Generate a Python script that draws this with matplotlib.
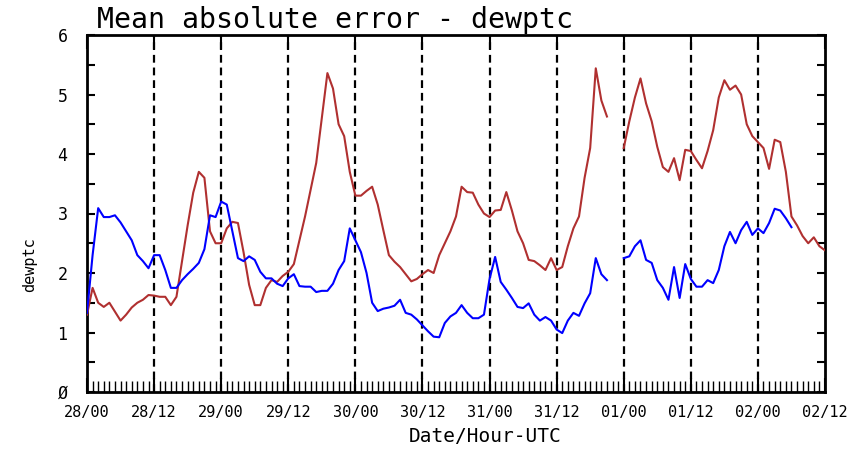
import numpy as np
import matplotlib
matplotlib.use("Agg")
import matplotlib.pyplot as plt

# ===== data (hourly) =====
hours = np.arange(0, 133)
tick_labels = ["28/00", "28/12", "29/00", "29/12", "30/00", "30/12",
               "31/00", "31/12", "01/00", "01/12", "02/00", "02/12"]

red_mae = [
    1.30, 1.75, 1.50, 1.43, 1.50, 1.35, 1.20, 1.30, 1.42, 1.50,   # 0-9
    1.55, 1.63, 1.62, 1.60, 1.60, 1.46, 1.60, 2.20, 2.80, 3.35,   # 10-19
    3.70, 3.60, 2.70, 2.50, 2.50, 2.75, 2.86, 2.84, 2.35, 1.80,   # 20-29
    1.46, 1.46, 1.75, 1.88, 1.85, 1.95, 2.02, 2.15, 2.55, 2.95,   # 30-39
    3.40, 3.85, 4.60, 5.36, 5.10, 4.50, 4.30, 3.70, 3.30, 3.30,   # 40-49
    3.38, 3.45, 3.15, 2.72, 2.30, 2.19, 2.10, 1.98, 1.86, 1.90,   # 50-59
    1.98, 2.05, 2.00, 2.30, 2.50, 2.70, 2.95, 3.45, 3.36, 3.35,   # 60-69
    3.15, 3.00, 2.94, 3.05, 3.06, 3.36, 3.05, 2.70, 2.50, 2.22,   # 70-79
    2.20, 2.13, 2.05, 2.25, 2.05, 2.10, 2.45, 2.75, 2.95, 3.60,   # 80-89
    4.10, 5.44, 4.90, 4.63, np.nan, np.nan, 4.10, 4.55, 4.95, 5.27,  # 90-99
    4.85, 4.55, 4.12, 3.78, 3.70, 3.93, 3.56, 4.07, 4.05, 3.90,   # 100-109
    3.76, 4.05, 4.40, 4.95, 5.24, 5.08, 5.15, 5.00, 4.50, 4.30,   # 110-119
    4.20, 4.10, 3.75, 4.24, 4.20, 3.70, 2.95, 2.80, 2.62, 2.50,   # 120-129
    2.60, 2.45, 2.38,                                             # 130-132
]

blue_mae = [
    1.33, 2.30, 3.09, 2.94, 2.94, 2.97, 2.85, 2.70, 2.55, 2.30,   # 0-9
    2.20, 2.08, 2.30, 2.30, 2.05, 1.75, 1.75, 1.88, 1.98, 2.07,   # 10-19
    2.17, 2.40, 2.97, 2.94, 3.20, 3.15, 2.70, 2.25, 2.20, 2.28,   # 20-29
    2.22, 2.02, 1.91, 1.91, 1.82, 1.78, 1.91, 1.98, 1.78, 1.77,   # 30-39
    1.77, 1.68, 1.70, 1.70, 1.82, 2.05, 2.20, 2.75, 2.55, 2.35,   # 40-49
    2.00, 1.50, 1.36, 1.40, 1.42, 1.45, 1.55, 1.33, 1.30, 1.22,   # 50-59
    1.12, 1.02, 0.93, 0.92, 1.16, 1.27, 1.33, 1.46, 1.33, 1.24,   # 60-69
    1.24, 1.30, 1.90, 2.27, 1.85, 1.72, 1.58, 1.43, 1.41, 1.49,   # 70-79
    1.30, 1.20, 1.26, 1.20, 1.05, 0.99, 1.20, 1.33, 1.28, 1.49,   # 80-89
    1.66, 2.25, 1.98, 1.88, np.nan, np.nan, 2.25, 2.28, 2.45, 2.55,  # 90-99
    2.22, 2.17, 1.88, 1.75, 1.55, 2.10, 1.58, 2.15, 1.90, 1.77,   # 100-109
    1.77, 1.88, 1.83, 2.05, 2.45, 2.69, 2.50, 2.72, 2.86, 2.64,   # 110-119
    2.75, 2.67, 2.84, 3.08, 3.05, 2.92, 2.77, np.nan, np.nan, np.nan,  # 120-129
    np.nan, np.nan, np.nan,                                       # 130-132
]

# ===== plot =====
plt.rcParams["font.family"] = ["DejaVu Sans Mono", "DejaVu Sans"]

fig = plt.figure(figsize=(8.58, 4.49), dpi=100)
ax = fig.add_axes([87 / 858, 1 - 392 / 449, 738 / 858, 357 / 449])

# dashed separators every 12 hours
for h in range(12, 132, 12):
    ax.axvline(h, color="black", lw=1.6, ls=(0, (3.5, 2.2)), zorder=1)

ax.plot(hours, red_mae, color="#b03030", lw=1.5, zorder=3)
ax.plot(hours, blue_mae, color="#0000ff", lw=1.5, zorder=3)

ax.set_xlim(0, 132)
ax.set_ylim(0, 6)

ax.set_xticks(np.arange(0, 133, 12))
ax.set_xticklabels(tick_labels, fontsize=11)
ax.set_xticks(np.arange(0, 133, 1), minor=True)
ax.set_yticks(np.arange(0, 7, 1))
ax.set_yticklabels(["Ø", "1", "2", "3", "4", "5", "6"], fontsize=12)
ax.set_yticks(np.arange(0, 6.01, 0.5), minor=True)

ax.tick_params(axis="x", which="major", direction="in", length=10, width=1.5,
               top=True, pad=9)
ax.tick_params(axis="x", which="minor", direction="in", length=8, width=1,
               top=False)
ax.tick_params(axis="y", which="major", direction="in", length=6, width=1.5,
               right=True, pad=14)
ax.tick_params(axis="y", which="minor", direction="in", length=6, width=1.5,
               right=True)

for sp in ax.spines.values():
    sp.set_linewidth(2)

ax.set_xlabel("Date/Hour-UTC", fontsize=14)
ax.xaxis.set_label_coords(0.54, -0.098)
ax.set_ylabel("dewptc", fontsize=11)
ax.yaxis.set_label_coords(-0.068, 0.356)
fig.text(97 / 858, 1 - 20 / 449, "Mean absolute error - dewptc",
         fontsize=20.3, va="center", ha="left")

plt.savefig("out.png", dpi=100)
